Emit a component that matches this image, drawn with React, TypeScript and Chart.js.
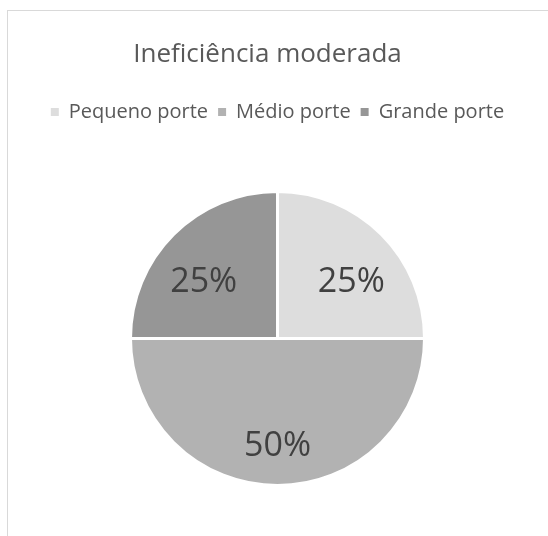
import React, { useEffect, useRef } from "react";
import { Chart, registerables } from "chart.js";

Chart.register(...registerables);

const TITLE = "Ineficiência moderada";
const CATEGORIES = ["Pequeno porte", "Médio porte", "Grande porte"];
const VALUES = [25, 50, 25];
const COLORS = ["#dddddd", "#b2b2b2", "#969696"];

export default function App() {
  const ref = useRef<HTMLCanvasElement>(null);

  useEffect(() => {
    if (!ref.current) return;

    const titlePlugin = {
      id: "customTitle",
      afterDraw(chart: any) {
        const ctx = chart.ctx;
        ctx.save();
        ctx.font = "26px 'Open Sans'";
        ctx.fillStyle = "#595959";
        ctx.textAlign = "center";
        ctx.textBaseline = "alphabetic";
        ctx.fillText(TITLE, 267.5, 62);
        ctx.restore();
      },
    };

    const legendGap = {
      id: "legendGap",
      beforeInit(chart: any) {
        const legend = chart.legend;
        if (!legend) return;
        const fit = legend.fit;
        legend.fit = function () {
          fit.call(this);
          this.height += 58;
        };
      },
    };

    const sliceLabels = {
      id: "sliceLabels",
      afterDatasetsDraw(chart: any) {
        const ctx = chart.ctx;
        const meta = chart.getDatasetMeta(0);
        const total = VALUES.reduce((a, b) => a + b, 0);
        ctx.save();
        ctx.font = "34px 'Open Sans'";
        ctx.fillStyle = "#404040";
        ctx.textAlign = "center";
        ctx.textBaseline = "alphabetic";
        meta.data.forEach((arc: any, i: number) => {
          const { x, y, startAngle, endAngle, outerRadius } = arc.getProps(
            ["x", "y", "startAngle", "endAngle", "outerRadius"],
            true
          );
          const mid = (startAngle + endAngle) / 2;
          const share = VALUES[i] / total;
          const kx = share >= 0.5 ? 0.72 : 0.71;
          const ky = share >= 0.5 ? 0.72 : 0.56;
          const lx = x + Math.cos(mid) * outerRadius * kx;
          const ly = y + Math.sin(mid) * outerRadius * ky;
          ctx.fillText(`${Math.round(share * 100)}%`, lx, ly + 12);
        });
        ctx.restore();
      },
    };

    const chart = new Chart(ref.current, {
      type: "pie",
      data: {
        labels: CATEGORIES,
        datasets: [
          {
            data: VALUES,
            backgroundColor: COLORS,
            borderColor: "#ffffff",
            borderWidth: 3,
            hoverOffset: 0,
            offset: 0,
          },
        ],
      },
      options: {
        responsive: false,
        animation: false,
        layout: { padding: { top: 92, bottom: 49, left: 7, right: 0 } },
        plugins: {
          title: { display: false },
          tooltip: { enabled: false },
          legend: {
            display: true,
            position: "top",
            labels: {
              font: { family: "'Open Sans'", size: 20 },
              color: "#595959",
              boxWidth: 8,
              boxHeight: 8,
              padding: 10,
              generateLabels(c: any) {
                const base = (Chart as any).overrides.pie.plugins.legend.labels.generateLabels(c);
                return base.map((l: any) => ({ ...l, lineWidth: 0, strokeStyle: "rgba(0,0,0,0)" }));
              },
            },
          },
        },
      },
      plugins: [titlePlugin, legendGap, sliceLabels],
    });

    return () => chart.destroy();
  }, []);

  return (
    <div style={{ position: "fixed", left: 0, top: 0, width: 548, height: 536, overflow: "hidden", background: "#fff" }}>
      <div
        style={{
          position: "absolute",
          left: 7,
          top: 10,
          width: 620,
          height: 620,
          border: "1px solid #d9d9d9",
          boxSizing: "border-box",
        }}
      />
      <canvas
        ref={ref}
        width={548}
        height={536}
        style={{ position: "absolute", left: 0, top: 0, width: 548, height: 536, display: "block" }}
      />
    </div>
  );
}
